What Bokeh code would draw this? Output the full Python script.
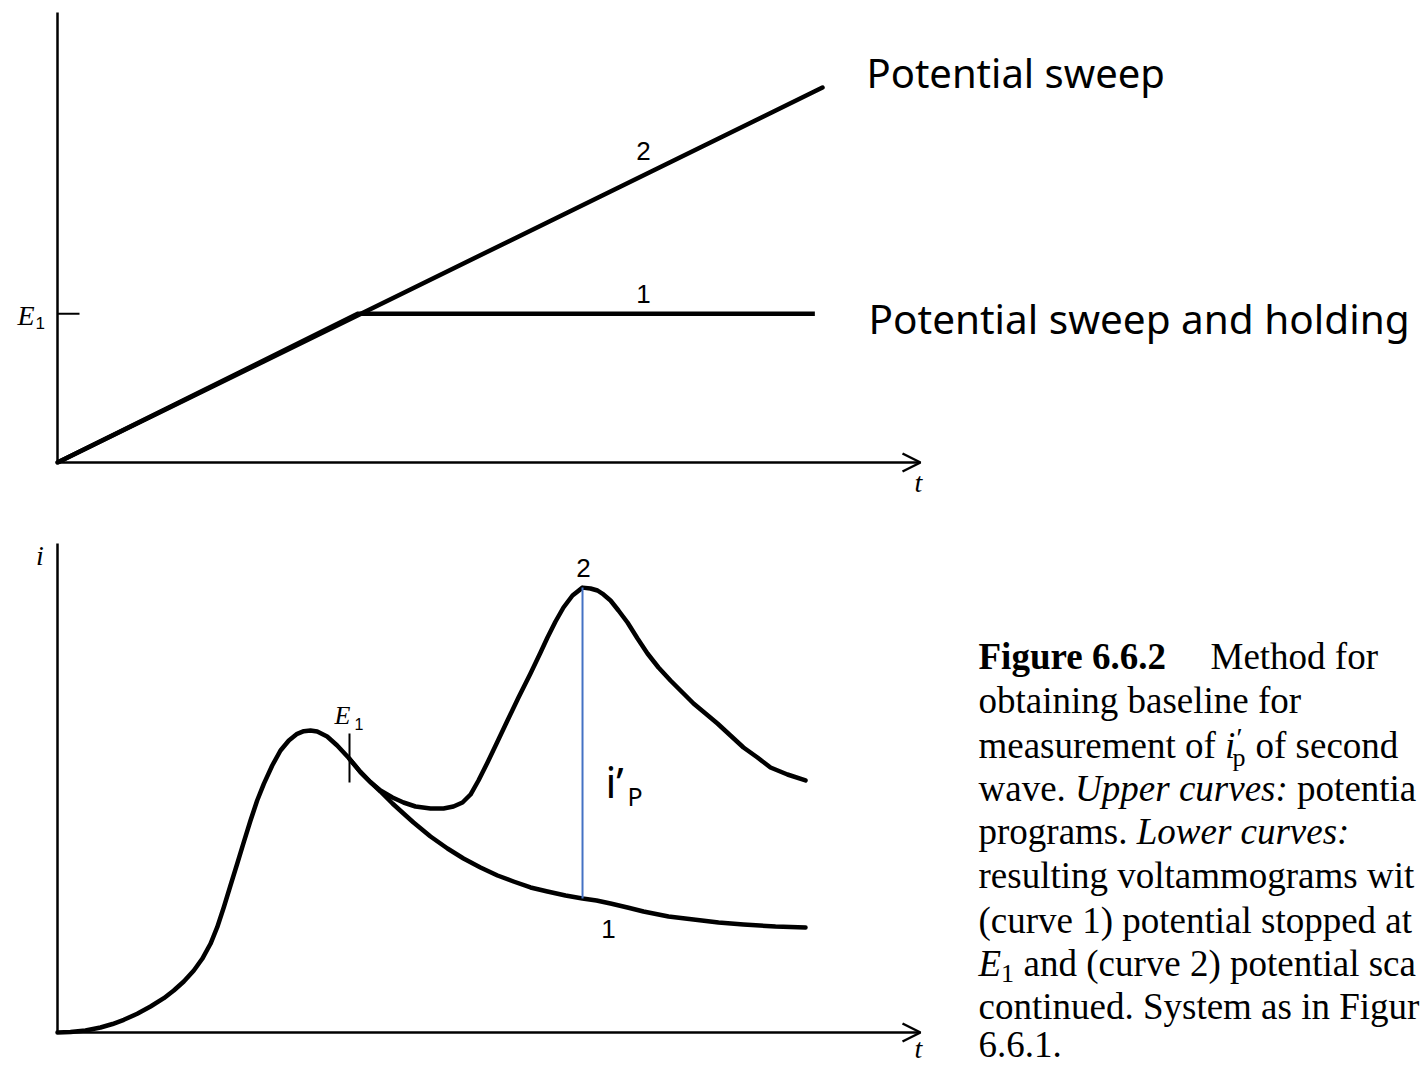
from bokeh.plotting import figure
from bokeh.models import Range1d, Label, Arrow, OpenHead
from bokeh.layouts import column
from bokeh.embed import file_html
from bokeh.resources import INLINE

# ---------------- data ----------------
# Upper panel: potential programs E(t)
sweep_t = [0.0, 10.0]          # curve 2: continued sweep
sweep_E = [0.0, 10.0]
hold_t = [0.0, 3.93, 9.9]      # curve 1: sweep then hold at E1
hold_E = [0.0, 3.97, 3.97]
E1_level = 3.97

# Lower panel: resulting voltammograms i(t)
curve2_t = [0.000, 0.170, 0.366, 0.562, 0.719, 0.867, 1.042, 1.216, 1.390, 1.520,
            1.651, 1.782, 1.892, 2.000, 2.088, 2.174, 2.261, 2.349, 2.435, 2.523,
            2.610, 2.697, 2.807, 2.915, 3.024, 3.133, 3.220, 3.307, 3.395, 3.525,
            3.656, 3.817, 3.961, 4.092, 4.222, 4.379, 4.523, 4.680, 4.876, 5.046,
            5.176, 5.294, 5.399, 5.503, 5.621, 5.752, 5.882, 6.026, 6.183, 6.314,
            6.405, 6.510, 6.614, 6.732, 6.863, 6.967, 7.059, 7.137, 7.229, 7.333,
            7.451, 7.582, 7.712, 7.856, 8.013, 8.170, 8.314, 8.471, 8.627, 8.797,
            8.967, 9.150, 9.320, 9.542, 9.778]
curve2_i = [0.000, 0.011, 0.045, 0.113, 0.191, 0.286, 0.421, 0.586, 0.773, 0.946,
            1.149, 1.396, 1.660, 1.998, 2.372, 2.822, 3.311, 3.800, 4.286, 4.775,
            5.225, 5.601, 6.014, 6.351, 6.577, 6.727, 6.786, 6.802, 6.779, 6.667,
            6.464, 6.164, 5.863, 5.637, 5.450, 5.293, 5.180, 5.090, 5.045, 5.045,
            5.090, 5.180, 5.360, 5.676, 6.081, 6.554, 7.027, 7.545, 8.086, 8.559,
            8.896, 9.257, 9.572, 9.842, 10.020, 10.000, 9.955, 9.865, 9.730, 9.505,
            9.234, 8.874, 8.536, 8.221, 7.928, 7.658, 7.410, 7.185, 6.959, 6.689,
            6.419, 6.194, 5.968, 5.811, 5.676]
curve1_t = [3.817, 3.961, 4.092, 4.222, 4.379, 4.523, 4.654, 4.876, 5.098, 5.307,
            5.529, 5.752, 5.961, 6.183, 6.405, 6.641, 6.863, 7.046, 7.229, 7.451,
            7.660, 7.987, 8.314, 8.641, 8.967, 9.386, 9.778]
curve1_i = [6.164, 5.863, 5.637, 5.428, 5.158, 4.932, 4.730, 4.414, 4.144, 3.919,
            3.716, 3.536, 3.401, 3.266, 3.176, 3.086, 3.018, 2.973, 2.905, 2.815,
            2.725, 2.613, 2.545, 2.477, 2.432, 2.387, 2.365]
E1_time = 3.817
ip_time = 6.863

# ---------------- layout helpers (page pixel -> data units) ----------------
X0, XS = 57.0, 76.5            # t = (px - X0) / XS
TY0, TYS = 462.0, 37.5         # upper panel
BY0, BYS = 1032.0, 44.4        # lower panel
W = 1427
TOP_Y0, H_TOP = 0, 520
BOT_Y0, H_BOT = 520, 546


def tx(px):
    return (px - X0) / XS


def ty(py):
    return (TY0 - py) / TYS


def by(py):
    return (BY0 - py) / BYS


def make_fig(h, y0, y1):
    p = figure(width=W, height=h, output_backend="svg", toolbar_location=None,
               x_range=Range1d(tx(0), tx(W)), y_range=Range1d(y0, y1),
               x_axis_location=None, y_axis_location=None, min_border=0,
               min_border_left=0, min_border_right=0, min_border_top=0,
               min_border_bottom=0)
    p.grid.visible = False
    p.outline_line_color = None
    p.background_fill_color = "white"
    p.border_fill_color = "white"
    return p


def lab(p, x, y, text, font="Liberation Serif", size=24, style="normal",
        align="left", baseline="middle", color="black"):
    p.add_layout(Label(x=x, y=y, text=text, text_font=font,
                       text_font_size=f"{size}px", text_font_style=style,
                       text_align=align, text_baseline=baseline,
                       text_color=color))


AXW = 2.5
CW = 4.5

# ---------------- upper panel ----------------
top = make_fig(H_TOP, ty(TOP_Y0 + H_TOP), ty(TOP_Y0))
top.line([0, 0], [0, ty(12)], line_color="black", line_width=AXW)
top.add_layout(Arrow(end=OpenHead(size=18, line_width=AXW, line_color="black"),
                     x_start=0, y_start=0, x_end=tx(920), y_end=0,
                     line_width=AXW, line_color="black"))
top.line([0, tx(79)], [E1_level, E1_level], line_color="black", line_width=2)
top.line(sweep_t, sweep_E, line_color="black", line_width=CW, line_cap="round")
top.line(hold_t, hold_E, line_color="black", line_width=CW, line_join="round")

lab(top, tx(34), ty(315), "E", style="italic", size=28, align="right")
lab(top, tx(35), ty(322), "1", font="Liberation Sans", size=17)
lab(top, tx(918), ty(482), "t", style="italic", size=28, align="center")
lab(top, tx(643), ty(150), "2", font="Liberation Sans", size=26, align="center")
lab(top, tx(643), ty(293), "1", font="Liberation Sans", size=26, align="center")
lab(top, tx(866), ty(72), "Potential sweep", font="Noto Sans", size=40)
lab(top, tx(868), ty(318), "Potential sweep and holding", font="Noto Sans", size=40.5)

# ---------------- lower panel ----------------
bot = make_fig(H_BOT, by(BOT_Y0 + H_BOT), by(BOT_Y0))
bot.line([0, 0], [0, by(543)], line_color="black", line_width=AXW)
bot.add_layout(Arrow(end=OpenHead(size=18, line_width=AXW, line_color="black"),
                     x_start=0, y_start=0, x_end=tx(920), y_end=0,
                     line_width=AXW, line_color="black"))
bot.line(curve2_t, curve2_i, line_color="black", line_width=CW, line_join="round",
         line_cap="round")
bot.line(curve1_t, curve1_i, line_color="black", line_width=CW, line_join="round",
         line_cap="round")
bot.line([E1_time, E1_time], [by(733), by(782)], line_color="black", line_width=2)
ip_top = curve2_i[curve2_t.index(ip_time)]
ip_bot = curve1_i[curve1_t.index(ip_time)]
bot.line([ip_time, ip_time], [ip_bot, ip_top], line_color="#4472C4", line_width=2)

lab(bot, tx(39.5), by(555), "i", style="italic", size=28, align="center")
lab(bot, tx(918), by(1048), "t", style="italic", size=28, align="center")
lab(bot, tx(334), by(715), "E", style="italic", size=26)
lab(bot, tx(354), by(723), "1", font="Liberation Sans", size=16)
lab(bot, tx(583), by(567), "2", font="Liberation Sans", size=26, align="center")
lab(bot, tx(608), by(928), "1", font="Liberation Sans", size=26, align="center")
lab(bot, tx(605), by(781), "i\u2019", font="Noto Sans", size=42)
lab(bot, tx(627), by(795), "P", font="Noto Sans", size=25)

# caption (as visible in the reference, which is cut at the right edge)
F = 37
cap = [
    ("Figure 6.6.2", 978, 656, "bold", F),
    ("Method for", 1210, 656, "normal", F),
    ("obtaining baseline for", 978, 700, "normal", F),
    ("measurement of", 978, 745, "normal", F),
    ("i", 1224.6, 745, "italic", F),
    ("\u2032", 1236, 737, "normal", 28),
    ("p", 1232, 757, "normal", 26),
    ("of second", 1255, 745, "normal", F),
    ("wave.", 978, 788, "normal", F),
    ("Upper curves:", 1074.6, 788, "italic", F),
    ("potentia", 1296.6, 788, "normal", F),
    ("programs.", 978, 831, "normal", F),
    ("Lower curves:", 1136.2, 831, "italic", F),
    ("resulting voltammograms wit", 978, 875, "normal", F),
    ("(curve 1) potential stopped at", 978, 920, "normal", F),
    ("E", 978, 963, "italic", F),
    ("1", 1000.6, 973, "normal", 26),
    ("and (curve 2) potential sca", 1023, 963, "normal", F),
    ("continued. System as in Figur", 978, 1006, "normal", F),
    ("6.6.1.", 978, 1044, "normal", F),
]
for text, px, py, style, size in cap:
    lab(bot, tx(px), by(py), text, font="Liberation Serif", size=size, style=style)

layout = column(top, bot, spacing=0)
open("out.html", "w").write(file_html(layout, INLINE))
